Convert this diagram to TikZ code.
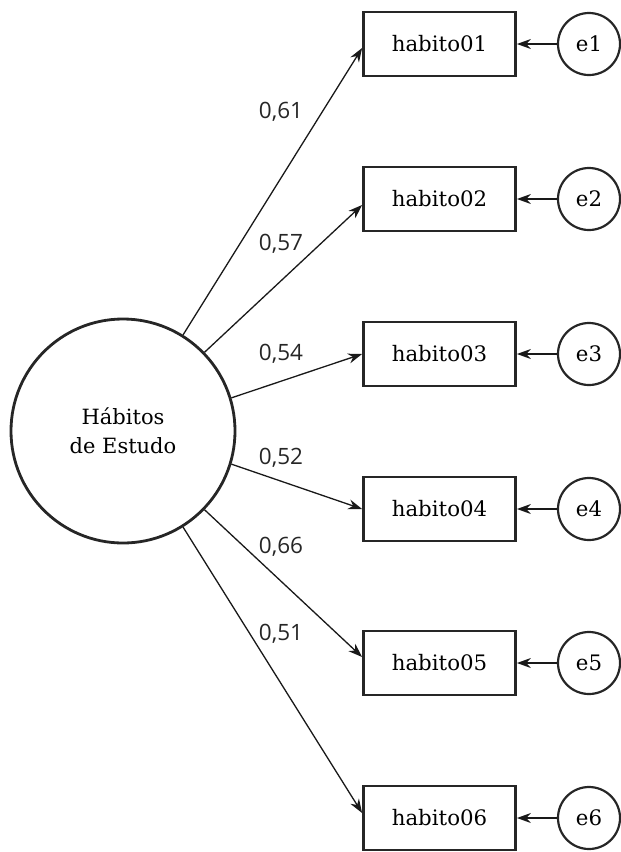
\documentclass[tikz,border=0pt]{standalone}
\usepackage{fontspec}
\setmainfont{DejaVu Serif}
\newfontfamily\labfont{Open Sans}
\usetikzlibrary{arrows.meta,calc}
\tikzset{
  obs/.style={draw=black!85, line width=2.8pt, minimum width=152pt, minimum height=64pt, inner sep=0pt, font=\fontsize{21.3}{26}\selectfont},
  err/.style={draw=black!85, line width=2.2pt, circle, minimum size=62pt, inner sep=0pt, font=\fontsize{21.3}{26}\selectfont},
  lat/.style={draw=black!85, line width=2.8pt, circle, minimum size=224pt, inner sep=0pt, align=center, font=\fontsize{21}{29}\selectfont},
  path/.style={draw=black!90, line width=1.3pt, -{Stealth[length=14pt,width=10pt]}},
  coef/.style={font=\labfont\fontsize{22.5}{26}\selectfont, text=black!85}
}
\begin{document}
\begin{tikzpicture}[x=1pt,y=-1pt]
\useasboundingbox (0,0) rectangle (621,852);
\node[lat] (H) at (123,431) {Hábitos\\de Estudo};
\foreach \i/\y in {1/44,2/199,3/354,4/509,5/663,6/818}{
  \node[obs] (b\i) at (439.5,\y) {habito0\i};
  \node[err] (e\i) at (589,\y) {e\i};
  \draw[path] (e\i) -- (b\i);
}
\coordinate (t1) at ($(b1.west)+(0,4)$);
\coordinate (t2) at ($(b2.west)+(0,6)$);
\coordinate (t3) at ($(b3.west)+(0,0)$);
\coordinate (t4) at ($(b4.west)+(0,0)$);
\coordinate (t5) at ($(b5.west)+(0,-6)$);
\coordinate (t6) at ($(b6.west)+(0,-5)$);
\draw[path] (H.58) -- (t1);
\draw[path] (H.44) -- (t2);
\draw[path] (H.17) -- (t3);
\draw[path] (H.-17) -- (t4);
\draw[path] (H.-44) -- (t5);
\draw[path] (H.-58) -- (t6);
\node[coef] (c1) at (281,112) {0,61};
\node[coef] (c2) at (281,244) {0,57};
\node[coef] (c3) at (281,354) {0,54};
\node[coef] (c4) at (281,458) {0,52};
\node[coef] (c5) at (281,547) {0,66};
\node[coef] (c6) at (281,634) {0,51};
\end{tikzpicture}
\end{document}
